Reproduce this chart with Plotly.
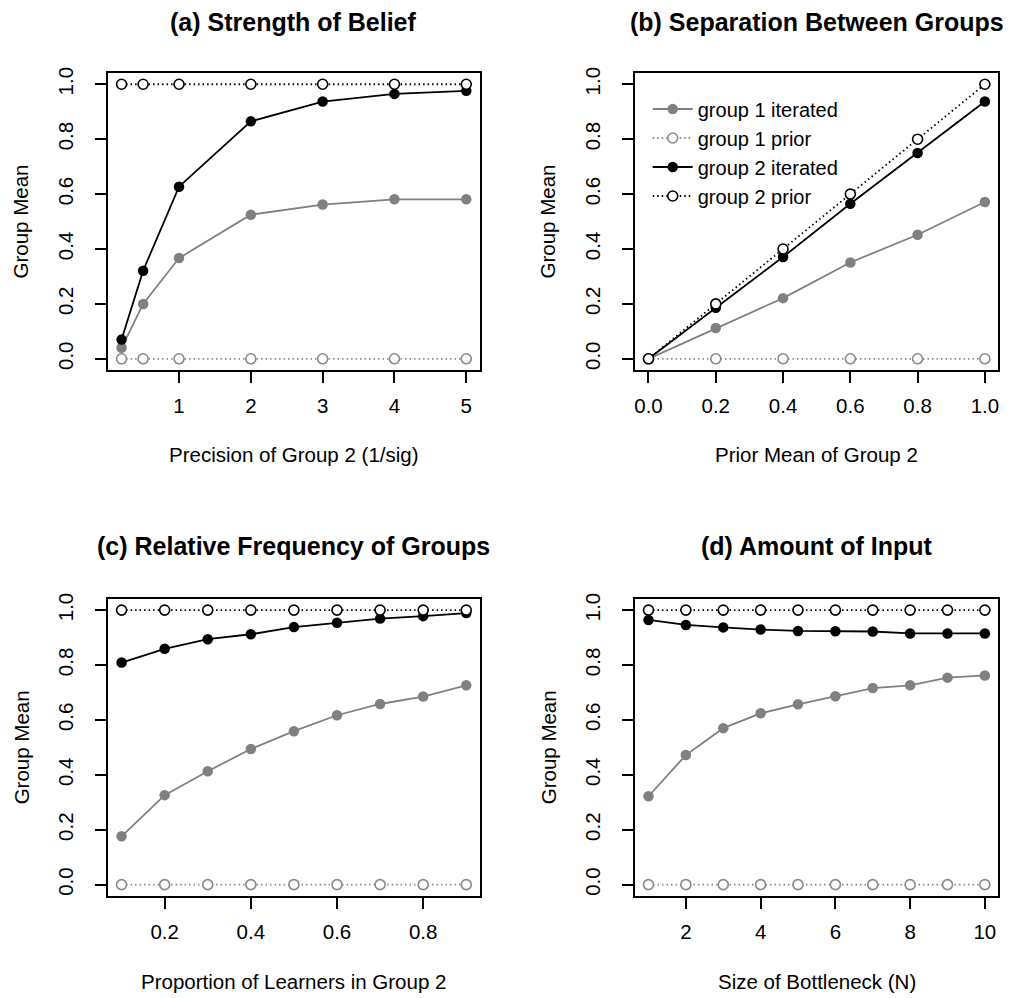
import plotly.graph_objects as go

# ---------------- data ----------------
a_x = [0.2, 0.5, 1, 2, 3, 4, 5]
a_g1_iter = [0.04, 0.20, 0.367, 0.525, 0.562, 0.581, 0.581]
a_g1_prior = [0, 0, 0, 0, 0, 0, 0]
a_g2_iter = [0.07, 0.321, 0.627, 0.865, 0.937, 0.965, 0.976]
a_g2_prior = [1, 1, 1, 1, 1, 1, 1]

b_x = [0.0, 0.2, 0.4, 0.6, 0.8, 1.0]
b_g1_iter = [0.0, 0.112, 0.221, 0.351, 0.452, 0.571]
b_g1_prior = [0, 0, 0, 0, 0, 0]
b_g2_iter = [0.0, 0.186, 0.371, 0.565, 0.750, 0.937]
b_g2_prior = [0.0, 0.2, 0.4, 0.6, 0.8, 1.0]

c_x = [0.1, 0.2, 0.3, 0.4, 0.5, 0.6, 0.7, 0.8, 0.9]
c_g1_iter = [0.176, 0.326, 0.413, 0.494, 0.559, 0.617, 0.658, 0.685, 0.726]
c_g1_prior = [0] * 9
c_g2_iter = [0.809, 0.859, 0.894, 0.912, 0.938, 0.954, 0.969, 0.978, 0.989]
c_g2_prior = [1] * 9

d_x = [1, 2, 3, 4, 5, 6, 7, 8, 9, 10]
d_g1_iter = [0.322, 0.472, 0.570, 0.624, 0.657, 0.686, 0.716, 0.726, 0.754, 0.762]
d_g1_prior = [0] * 10
d_g2_iter = [0.964, 0.946, 0.937, 0.929, 0.924, 0.923, 0.922, 0.915, 0.915, 0.915]
d_g2_prior = [1] * 10

titles = ["(a) Strength of Belief", "(b) Separation Between Groups",
          "(c) Relative Frequency of Groups", "(d) Amount of Input"]
xlabels = ["Precision of Group 2 (1/sig)", "Prior Mean of Group 2",
           "Proportion of Learners in Group 2", "Size of Bottleneck (N)"]
ylabel = "Group Mean"
legend_names = ["group 1 iterated", "group 1 prior", "group 2 iterated", "group 2 prior"]

a_ticks = [1, 2, 3, 4, 5]
b_ticks = [0.0, 0.2, 0.4, 0.6, 0.8, 1.0]
c_ticks = [0.2, 0.4, 0.6, 0.8]
d_ticks = [2, 4, 6, 8, 10]
y_ticks = [0.0, 0.2, 0.4, 0.6, 0.8, 1.0]

# ---------------- layout geometry ----------------
W, H = 1013, 998
FONT = "Liberation Sans, Arial, Helvetica, sans-serif"
GRAY = "#808080"
GRAY_P = "#8a8a8a"
FS = 20.5
LW = 1.8

left_box = (107, 480)
right_box = (635.3, 999.3)
top_box = (67.7, 366)
bot_box = (596.7, 895)

panels = [
    dict(x=a_x, s=[a_g1_iter, a_g1_prior, a_g2_iter, a_g2_prior], ticks=a_ticks,
         fmt=None, xb=left_box, yb=top_box),
    dict(x=b_x, s=[b_g1_iter, b_g1_prior, b_g2_iter, b_g2_prior], ticks=b_ticks,
         fmt=".1f", xb=right_box, yb=top_box),
    dict(x=c_x, s=[c_g1_iter, c_g1_prior, c_g2_iter, c_g2_prior], ticks=c_ticks,
         fmt=".1f", xb=left_box, yb=bot_box),
    dict(x=d_x, s=[d_g1_iter, d_g1_prior, d_g2_iter, d_g2_prior], ticks=d_ticks,
         fmt=None, xb=right_box, yb=bot_box),
]

styles = [
    dict(line=dict(color=GRAY, width=LW), marker=dict(symbol="circle", size=10.5, color=GRAY, line=dict(width=0))),
    dict(line=dict(color=GRAY_P, width=LW, dash="1.5px,3px"),
         marker=dict(symbol="circle", size=10, color="white", line=dict(color=GRAY_P, width=1.6))),
    dict(line=dict(color="black", width=LW), marker=dict(symbol="circle", size=10.5, color="black", line=dict(width=0))),
    dict(line=dict(color="black", width=LW, dash="1.5px,3px"),
         marker=dict(symbol="circle", size=10, color="white", line=dict(color="black", width=1.6))),
]

fig = go.Figure()
annotations = []
layout_axes = {}

for i, p in enumerate(panels):
    n = i + 1
    xa = "x" if n == 1 else f"x{n}"
    ya = "y" if n == 1 else f"y{n}"
    for k, ser in enumerate(p["s"]):
        fig.add_trace(go.Scatter(
            x=p["x"], y=ser, mode="lines+markers", name=legend_names[k],
            xaxis=xa, yaxis=ya, showlegend=(n == 2), legendrank=k + 1,
            line=styles[k]["line"], marker=styles[k]["marker"], cliponaxis=False,
        ))
    xmin, xmax = min(p["x"]), max(p["x"])
    ext = (xmax - xmin) * 0.04
    x0, x1 = p["xb"]
    y0, y1 = p["yb"]
    xkey = "xaxis" if n == 1 else f"xaxis{n}"
    ykey = "yaxis" if n == 1 else f"yaxis{n}"
    layout_axes[xkey] = dict(
        domain=[x0 / W, x1 / W], anchor=ya, range=[xmin - ext, xmax + ext],
        tickmode="array", tickvals=p["ticks"], tickformat=p["fmt"],
        ticks="outside", ticklen=11, tickwidth=LW, tickcolor="black",
        showline=True, linecolor="black", linewidth=LW, mirror=True,
        showgrid=False, zeroline=False, ticklabelstandoff=6,
        tickfont=dict(family=FONT, size=FS, color="black"),
    )
    layout_axes[ykey] = dict(
        domain=[1 - y1 / H, 1 - y0 / H], anchor=xa, range=[-0.04, 1.04],
        tickmode="array", tickvals=y_ticks, tickformat=".1f", tickangle=-90,
        ticks="outside", ticklen=11, tickwidth=LW, tickcolor="black",
        showline=True, linecolor="black", linewidth=LW, mirror=True,
        showgrid=False, zeroline=False, ticklabelstandoff=14,
        tickfont=dict(family=FONT, size=FS, color="black"),
    )
    cx = (x0 + x1) / 2 / W
    cy = (y0 + y1) / 2
    # title
    ty = 16 if n <= 2 else 543
    annotations.append(dict(text=f"<b>{titles[i]}</b>", x=cx, y=1 - ty / H, xref="paper", yref="paper",
                            xanchor="center", yanchor="middle", showarrow=False,
                            font=dict(family=FONT, size=25, color="black")))
    # x label
    ly = 451 if n <= 2 else 981
    annotations.append(dict(text=xlabels[i], x=cx, y=1 - ly / H, xref="paper", yref="paper",
                            xanchor="center", yanchor="middle", showarrow=False,
                            font=dict(family=FONT, size=FS, color="black")))
    # y label
    lx = 20 if n in (1, 3) else 548
    annotations.append(dict(text=ylabel, x=lx / W, y=1 - cy / H, xref="paper", yref="paper",
                            xanchor="center", yanchor="middle", showarrow=False, textangle=-90,
                            font=dict(family=FONT, size=FS, color="black")))

fig.update_layout(
    width=W, height=H, margin=dict(l=0, r=0, t=0, b=0),
    paper_bgcolor="white", plot_bgcolor="white",
    font=dict(family=FONT, size=FS, color="black"),
    annotations=annotations,
    legend=dict(x=648 / W, y=1 - 84 / H, xanchor="left", yanchor="top",
                bgcolor="rgba(0,0,0,0)", borderwidth=0,
                font=dict(family=FONT, size=20, color="black"),
                tracegroupgap=0, itemwidth=40),
    **layout_axes,
)

fig.write_html("out.html", config={"displayModeBar": False},
               post_script="document.body.style.margin='0';document.body.style.padding='0';")
